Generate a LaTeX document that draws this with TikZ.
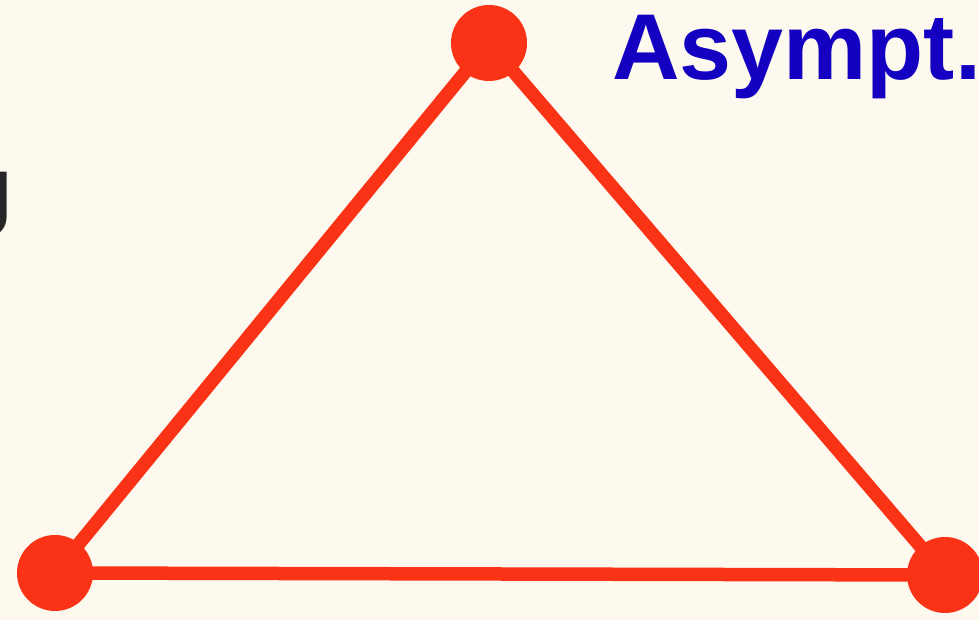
\documentclass[tikz,border=0pt]{standalone}
\usepackage{fontspec}
\setmainfont{Liberation Sans}
\usetikzlibrary{decorations.pathmorphing}
\definecolor{bgcream}{RGB}{253,249,238}
\definecolor{penred}{RGB}{250,50,22}
\definecolor{inkblue}{RGB}{20,0,192}
\definecolor{inkdark}{RGB}{38,38,38}
\tikzset{
  vdot/.style={circle,fill=penred,minimum size=76pt,inner sep=0pt,draw=none},
  edge/.style={draw=penred,line width=13.5pt,line cap=round},
  rough/.style={draw=penred,line width=3pt,line cap=round,
    decorate,decoration={random steps,segment length=4pt,amplitude=2pt}},
  bigtext/.style={inner sep=0pt,font=\fontsize{93.5pt}{100pt}\selectfont\bfseries}
}
\begin{document}
\begin{tikzpicture}[x=1pt,y=1pt]
\fill[bgcream] (0,0) rectangle (979,620);
\useasboundingbox (0,0) rectangle (979,620);
\begin{scope}
\clip (0,0) rectangle (979,620);
\node[bigtext,text=inkblue,anchor=base west] (asy) at (612,540) {Asympt.};
\node[bigtext,text=inkdark,anchor=base east] (jl) at (14,383) {J};
\node[vdot] (top) at (489,577) {};
\node[vdot] (bl) at (55,47) {};
\node[vdot] (br) at (945,45) {};
\draw[edge] (top.center) -- (bl.center);
\draw[edge] (bl.center) -- (br.center);
\draw[edge] (br.center) -- (top.center);
\draw[rough] (top.center) -- (bl.center);
\draw[rough] (bl.center) -- (br.center);
\draw[rough] (br.center) -- (top.center);
\end{scope}
\end{tikzpicture}
\end{document}
